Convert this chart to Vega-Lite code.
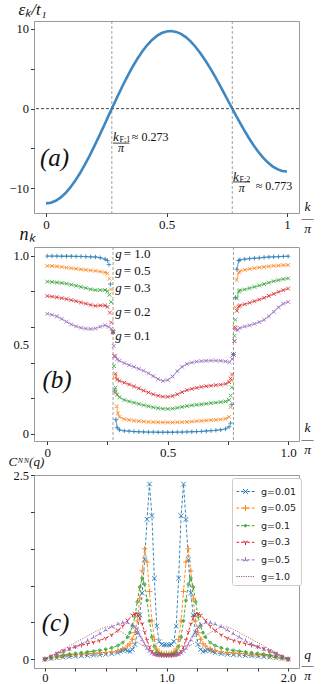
{
"$schema": "https://vega.github.io/schema/vega-lite/v6.json",
"padding": {"left": 7, "top": 0, "right": 0, "bottom": 0},
"bounds": "flush",
"spacing": 34,
"config": {
  "view": {"stroke": "#9a9a9a", "strokeWidth": 1},
  "axis": {"labelFont": "Liberation Serif", "labelFontSize": 12.5, "labelColor": "#111", "tickColor": "#333", "tickSize": 3.5, "tickCount": 50, "domain": false, "grid": false, "titleFont": "Liberation Serif", "titleFontStyle": "italic", "titleFontWeight": "normal", "titleColor": "#111", "labelPadding": 2, "labelOverlap": false, "labelFlush": false},
  "text": {"font": "Liberation Serif", "color": "#111"}
},
"datasets": {
  "eps": [
    {"k":0,"e":-11.89},{"k":0.02,"e":-11.81},{"k":0.04,"e":-11.57},{"k":0.06,"e":-11.17},{"k":0.08,"e":-10.62},{"k":0.1,"e":-9.92},{"k":0.12,"e":-9.1},{"k":0.14,"e":-8.15},{"k":0.16,"e":-7.1},{"k":0.18,"e":-5.96},{"k":0.2,"e":-4.74},{"k":0.22,"e":-3.48},{"k":0.24,"e":-2.17},{"k":0.26,"e":-0.85},{"k":0.28,"e":0.46},{"k":0.3,"e":1.75},{"k":0.32,"e":3.0},{"k":0.34,"e":4.18},{"k":0.36,"e":5.29},{"k":0.38,"e":6.3},{"k":0.4,"e":7.2},{"k":0.42,"e":7.98},{"k":0.44,"e":8.63},{"k":0.46,"e":9.13},{"k":0.48,"e":9.49},{"k":0.5,"e":9.69},{"k":0.52,"e":9.74},{"k":0.54,"e":9.63},{"k":0.56,"e":9.38},{"k":0.58,"e":8.98},{"k":0.6,"e":8.44},{"k":0.62,"e":7.77},{"k":0.64,"e":6.99},{"k":0.66,"e":6.11},{"k":0.68,"e":5.14},{"k":0.7,"e":4.1},{"k":0.72,"e":3.01},{"k":0.74,"e":1.88},{"k":0.76,"e":0.74},{"k":0.78,"e":-0.39},{"k":0.8,"e":-1.51},{"k":0.82,"e":-2.58},{"k":0.84,"e":-3.59},{"k":0.86,"e":-4.53},{"k":0.88,"e":-5.38},{"k":0.9,"e":-6.12},{"k":0.92,"e":-6.74},{"k":0.94,"e":-7.24},{"k":0.96,"e":-7.6},{"k":0.98,"e":-7.82},{"k":1.0,"e":-7.89}
  ],
  "kf": [{"k":0.273},{"k":0.773}],
  "zero": [{"e":0}],
  "annA": [
    {"r":"num","k":0.278,"e":-3.5,"t":"k"},{"r":"num","k":0.776,"e":-8.62,"t":"k"},
    {"r":"sub","k":0.278,"e":-3.5,"t":"F;1"},{"r":"sub","k":0.776,"e":-8.62,"t":"F;2"},
    {"r":"den","k":0.311,"e":-4.95,"t":"π"},{"r":"den","k":0.812,"e":-9.91,"t":"π"},
    {"r":"val","k":0.356,"e":-3.58,"t":"≈ 0.273"},{"r":"val","k":0.87,"e":-9.66,"t":"≈ 0.773"},
    {"r":"lab","k":-0.025,"e":-6.2,"t":"(a)"}
  ],
  "barA": [{"k":0.278,"k2":0.346,"e":-4.33},{"k":0.776,"k2":0.846,"e":-9.2}],
  "annB": [
    {"r":"g","k":0.282,"n":1.01,"t":"= 1.0"},{"r":"g","k":0.282,"n":0.914,"t":"= 0.5"},{"r":"g","k":0.282,"n":0.816,"t":"= 0.3"},{"r":"g","k":0.282,"n":0.685,"t":"= 0.2"},{"r":"g","k":0.282,"n":0.549,"t":"= 0.1"},
    {"r":"lab","k":-0.02,"n":0.3,"t":"(b)"}
  ],
  "annC": [{"q":-0.027,"c":0.49,"t":"(c)"}],
  "nk": [
    {"g":"1.0","s":"L","k":0,"n":0.997},{"g":"1.0","s":"L","k":0.02,"n":0.997},{"g":"1.0","s":"L","k":0.04,"n":0.997},{"g":"1.0","s":"L","k":0.06,"n":0.996},{"g":"1.0","s":"L","k":0.08,"n":0.996},{"g":"1.0","s":"L","k":0.1,"n":0.996},{"g":"1.0","s":"L","k":0.12,"n":0.995},{"g":"1.0","s":"L","k":0.14,"n":0.995},{"g":"1.0","s":"L","k":0.16,"n":0.994},{"g":"1.0","s":"L","k":0.18,"n":0.993},{"g":"1.0","s":"L","k":0.2,"n":0.992},{"g":"1.0","s":"L","k":0.22,"n":0.988},{"g":"1.0","s":"L","k":0.24,"n":0.98},{"g":"1.0","s":"L","k":0.25,"n":0.972},
    {"g":"1.0","s":"T","k":0.256,"n":0.95},{"g":"1.0","s":"T","k":0.262,"n":0.84},{"g":"1.0","s":"T","k":0.273,"n":0.57},{"g":"1.0","s":"T","k":0.279,"n":0.24},
    {"g":"1.0","s":"M","k":0.285,"n":0.08},{"g":"1.0","s":"M","k":0.29,"n":0.035},{"g":"1.0","s":"M","k":0.3,"n":0.022},{"g":"1.0","s":"M","k":0.32,"n":0.017},{"g":"1.0","s":"M","k":0.34,"n":0.015},{"g":"1.0","s":"M","k":0.36,"n":0.013},{"g":"1.0","s":"M","k":0.38,"n":0.012},{"g":"1.0","s":"M","k":0.4,"n":0.011},{"g":"1.0","s":"M","k":0.42,"n":0.01},{"g":"1.0","s":"M","k":0.44,"n":0.01},{"g":"1.0","s":"M","k":0.46,"n":0.009},{"g":"1.0","s":"M","k":0.48,"n":0.009},{"g":"1.0","s":"M","k":0.5,"n":0.009},{"g":"1.0","s":"M","k":0.52,"n":0.009},{"g":"1.0","s":"M","k":0.54,"n":0.01},{"g":"1.0","s":"M","k":0.56,"n":0.01},{"g":"1.0","s":"M","k":0.58,"n":0.011},{"g":"1.0","s":"M","k":0.6,"n":0.012},{"g":"1.0","s":"M","k":0.62,"n":0.013},{"g":"1.0","s":"M","k":0.64,"n":0.014},{"g":"1.0","s":"M","k":0.66,"n":0.016},{"g":"1.0","s":"M","k":0.68,"n":0.018},{"g":"1.0","s":"M","k":0.7,"n":0.02},{"g":"1.0","s":"M","k":0.72,"n":0.023},{"g":"1.0","s":"M","k":0.74,"n":0.028},{"g":"1.0","s":"M","k":0.755,"n":0.04},
    {"g":"1.0","s":"T","k":0.761,"n":0.06},{"g":"1.0","s":"T","k":0.766,"n":0.165},{"g":"1.0","s":"T","k":0.773,"n":0.445},{"g":"1.0","s":"T","k":0.781,"n":0.764},
    {"g":"1.0","s":"R","k":0.787,"n":0.923},{"g":"1.0","s":"R","k":0.795,"n":0.972},{"g":"1.0","s":"R","k":0.8,"n":0.976},{"g":"1.0","s":"R","k":0.82,"n":0.98},{"g":"1.0","s":"R","k":0.84,"n":0.983},{"g":"1.0","s":"R","k":0.86,"n":0.985},{"g":"1.0","s":"R","k":0.88,"n":0.987},{"g":"1.0","s":"R","k":0.9,"n":0.99},{"g":"1.0","s":"R","k":0.92,"n":0.992},{"g":"1.0","s":"R","k":0.94,"n":0.993},{"g":"1.0","s":"R","k":0.96,"n":0.994},{"g":"1.0","s":"R","k":0.98,"n":0.995},{"g":"1.0","s":"R","k":1.0,"n":0.996},

    {"g":"0.5","s":"L","k":0,"n":0.942},{"g":"0.5","s":"L","k":0.02,"n":0.941},{"g":"0.5","s":"L","k":0.04,"n":0.939},{"g":"0.5","s":"L","k":0.06,"n":0.936},{"g":"0.5","s":"L","k":0.08,"n":0.932},{"g":"0.5","s":"L","k":0.1,"n":0.929},{"g":"0.5","s":"L","k":0.12,"n":0.926},{"g":"0.5","s":"L","k":0.14,"n":0.923},{"g":"0.5","s":"L","k":0.16,"n":0.92},{"g":"0.5","s":"L","k":0.18,"n":0.917},{"g":"0.5","s":"L","k":0.2,"n":0.914},{"g":"0.5","s":"L","k":0.22,"n":0.91},{"g":"0.5","s":"L","k":0.24,"n":0.905},{"g":"0.5","s":"L","k":0.25,"n":0.9},
    {"g":"0.5","s":"T","k":0.258,"n":0.87},{"g":"0.5","s":"T","k":0.265,"n":0.81},{"g":"0.5","s":"T","k":0.273,"n":0.57},{"g":"0.5","s":"T","k":0.279,"n":0.315},{"g":"0.5","s":"T","k":0.283,"n":0.23},
    {"g":"0.5","s":"M","k":0.288,"n":0.155},{"g":"0.5","s":"M","k":0.293,"n":0.115},{"g":"0.5","s":"M","k":0.3,"n":0.095},{"g":"0.5","s":"M","k":0.32,"n":0.083},{"g":"0.5","s":"M","k":0.34,"n":0.078},{"g":"0.5","s":"M","k":0.36,"n":0.074},{"g":"0.5","s":"M","k":0.38,"n":0.071},{"g":"0.5","s":"M","k":0.4,"n":0.069},{"g":"0.5","s":"M","k":0.42,"n":0.067},{"g":"0.5","s":"M","k":0.44,"n":0.066},{"g":"0.5","s":"M","k":0.46,"n":0.065},{"g":"0.5","s":"M","k":0.48,"n":0.064},{"g":"0.5","s":"M","k":0.5,"n":0.064},{"g":"0.5","s":"M","k":0.52,"n":0.064},{"g":"0.5","s":"M","k":0.54,"n":0.065},{"g":"0.5","s":"M","k":0.56,"n":0.066},{"g":"0.5","s":"M","k":0.58,"n":0.067},{"g":"0.5","s":"M","k":0.6,"n":0.069},{"g":"0.5","s":"M","k":0.62,"n":0.071},{"g":"0.5","s":"M","k":0.64,"n":0.073},{"g":"0.5","s":"M","k":0.66,"n":0.075},{"g":"0.5","s":"M","k":0.68,"n":0.077},{"g":"0.5","s":"M","k":0.7,"n":0.079},{"g":"0.5","s":"M","k":0.72,"n":0.081},{"g":"0.5","s":"M","k":0.74,"n":0.084},{"g":"0.5","s":"M","k":0.755,"n":0.095},
    {"g":"0.5","s":"T","k":0.761,"n":0.15},{"g":"0.5","s":"T","k":0.766,"n":0.3},{"g":"0.5","s":"T","k":0.773,"n":0.445},{"g":"0.5","s":"T","k":0.777,"n":0.6},{"g":"0.5","s":"T","k":0.781,"n":0.71},
    {"g":"0.5","s":"R","k":0.786,"n":0.863},{"g":"0.5","s":"R","k":0.795,"n":0.905},{"g":"0.5","s":"R","k":0.8,"n":0.912},{"g":"0.5","s":"R","k":0.82,"n":0.92},{"g":"0.5","s":"R","k":0.84,"n":0.925},{"g":"0.5","s":"R","k":0.86,"n":0.929},{"g":"0.5","s":"R","k":0.88,"n":0.933},{"g":"0.5","s":"R","k":0.9,"n":0.936},{"g":"0.5","s":"R","k":0.92,"n":0.939},{"g":"0.5","s":"R","k":0.94,"n":0.942},{"g":"0.5","s":"R","k":0.96,"n":0.944},{"g":"0.5","s":"R","k":0.98,"n":0.946},{"g":"0.5","s":"R","k":1.0,"n":0.947},

    {"g":"0.3","s":"L","k":0,"n":0.854},{"g":"0.3","s":"L","k":0.02,"n":0.852},{"g":"0.3","s":"L","k":0.04,"n":0.849},{"g":"0.3","s":"L","k":0.06,"n":0.846},{"g":"0.3","s":"L","k":0.08,"n":0.842},{"g":"0.3","s":"L","k":0.1,"n":0.837},{"g":"0.3","s":"L","k":0.12,"n":0.831},{"g":"0.3","s":"L","k":0.14,"n":0.825},{"g":"0.3","s":"L","k":0.16,"n":0.818},{"g":"0.3","s":"L","k":0.18,"n":0.811},{"g":"0.3","s":"L","k":0.2,"n":0.806},{"g":"0.3","s":"L","k":0.22,"n":0.806},{"g":"0.3","s":"L","k":0.24,"n":0.807},{"g":"0.3","s":"L","k":0.25,"n":0.8},
    {"g":"0.3","s":"T","k":0.258,"n":0.78},{"g":"0.3","s":"T","k":0.265,"n":0.74},{"g":"0.3","s":"T","k":0.273,"n":0.57},{"g":"0.3","s":"T","k":0.277,"n":0.38},
    {"g":"0.3","s":"M","k":0.283,"n":0.26},{"g":"0.3","s":"M","k":0.29,"n":0.22},{"g":"0.3","s":"M","k":0.3,"n":0.205},{"g":"0.3","s":"M","k":0.32,"n":0.19},{"g":"0.3","s":"M","k":0.34,"n":0.182},{"g":"0.3","s":"M","k":0.36,"n":0.175},{"g":"0.3","s":"M","k":0.38,"n":0.168},{"g":"0.3","s":"M","k":0.4,"n":0.161},{"g":"0.3","s":"M","k":0.42,"n":0.155},{"g":"0.3","s":"M","k":0.44,"n":0.149},{"g":"0.3","s":"M","k":0.46,"n":0.144},{"g":"0.3","s":"M","k":0.48,"n":0.141},{"g":"0.3","s":"M","k":0.5,"n":0.14},{"g":"0.3","s":"M","k":0.52,"n":0.142},{"g":"0.3","s":"M","k":0.54,"n":0.146},{"g":"0.3","s":"M","k":0.56,"n":0.151},{"g":"0.3","s":"M","k":0.58,"n":0.156},{"g":"0.3","s":"M","k":0.6,"n":0.16},{"g":"0.3","s":"M","k":0.62,"n":0.163},{"g":"0.3","s":"M","k":0.64,"n":0.166},{"g":"0.3","s":"M","k":0.66,"n":0.169},{"g":"0.3","s":"M","k":0.68,"n":0.172},{"g":"0.3","s":"M","k":0.7,"n":0.175},{"g":"0.3","s":"M","k":0.72,"n":0.178},{"g":"0.3","s":"M","k":0.74,"n":0.182},{"g":"0.3","s":"M","k":0.755,"n":0.19},
    {"g":"0.3","s":"T","k":0.761,"n":0.215},{"g":"0.3","s":"T","k":0.766,"n":0.26},{"g":"0.3","s":"T","k":0.773,"n":0.445},{"g":"0.3","s":"T","k":0.777,"n":0.55},{"g":"0.3","s":"T","k":0.781,"n":0.64},
    {"g":"0.3","s":"R","k":0.787,"n":0.76},{"g":"0.3","s":"R","k":0.795,"n":0.8},{"g":"0.3","s":"R","k":0.8,"n":0.805},{"g":"0.3","s":"R","k":0.82,"n":0.81},{"g":"0.3","s":"R","k":0.84,"n":0.817},{"g":"0.3","s":"R","k":0.86,"n":0.824},{"g":"0.3","s":"R","k":0.88,"n":0.832},{"g":"0.3","s":"R","k":0.9,"n":0.84},{"g":"0.3","s":"R","k":0.92,"n":0.848},{"g":"0.3","s":"R","k":0.94,"n":0.856},{"g":"0.3","s":"R","k":0.96,"n":0.862},{"g":"0.3","s":"R","k":0.98,"n":0.868},{"g":"0.3","s":"R","k":1.0,"n":0.872},

    {"g":"0.2","s":"L","k":0,"n":0.773},{"g":"0.2","s":"L","k":0.02,"n":0.77},{"g":"0.2","s":"L","k":0.04,"n":0.766},{"g":"0.2","s":"L","k":0.06,"n":0.761},{"g":"0.2","s":"L","k":0.08,"n":0.756},{"g":"0.2","s":"L","k":0.1,"n":0.75},{"g":"0.2","s":"L","k":0.12,"n":0.744},{"g":"0.2","s":"L","k":0.14,"n":0.737},{"g":"0.2","s":"L","k":0.16,"n":0.73},{"g":"0.2","s":"L","k":0.18,"n":0.723},{"g":"0.2","s":"L","k":0.2,"n":0.718},{"g":"0.2","s":"L","k":0.22,"n":0.72},{"g":"0.2","s":"L","k":0.24,"n":0.72},{"g":"0.2","s":"L","k":0.25,"n":0.712},
    {"g":"0.2","s":"T","k":0.26,"n":0.68},{"g":"0.2","s":"T","k":0.265,"n":0.625},{"g":"0.2","s":"T","k":0.273,"n":0.57},{"g":"0.2","s":"T","k":0.278,"n":0.436},
    {"g":"0.2","s":"M","k":0.283,"n":0.337},{"g":"0.2","s":"M","k":0.29,"n":0.305},{"g":"0.2","s":"M","k":0.3,"n":0.297},{"g":"0.2","s":"M","k":0.32,"n":0.287},{"g":"0.2","s":"M","k":0.34,"n":0.277},{"g":"0.2","s":"M","k":0.36,"n":0.266},{"g":"0.2","s":"M","k":0.38,"n":0.255},{"g":"0.2","s":"M","k":0.4,"n":0.243},{"g":"0.2","s":"M","k":0.42,"n":0.232},{"g":"0.2","s":"M","k":0.44,"n":0.222},{"g":"0.2","s":"M","k":0.46,"n":0.214},{"g":"0.2","s":"M","k":0.48,"n":0.209},{"g":"0.2","s":"M","k":0.5,"n":0.208},{"g":"0.2","s":"M","k":0.52,"n":0.212},{"g":"0.2","s":"M","k":0.54,"n":0.222},{"g":"0.2","s":"M","k":0.56,"n":0.234},{"g":"0.2","s":"M","k":0.58,"n":0.245},{"g":"0.2","s":"M","k":0.6,"n":0.252},{"g":"0.2","s":"M","k":0.62,"n":0.258},{"g":"0.2","s":"M","k":0.64,"n":0.263},{"g":"0.2","s":"M","k":0.66,"n":0.267},{"g":"0.2","s":"M","k":0.68,"n":0.27},{"g":"0.2","s":"M","k":0.7,"n":0.273},{"g":"0.2","s":"M","k":0.72,"n":0.276},{"g":"0.2","s":"M","k":0.74,"n":0.28},{"g":"0.2","s":"M","k":0.755,"n":0.29},
    {"g":"0.2","s":"T","k":0.761,"n":0.31},{"g":"0.2","s":"T","k":0.767,"n":0.333},{"g":"0.2","s":"T","k":0.773,"n":0.445},{"g":"0.2","s":"T","k":0.777,"n":0.52},{"g":"0.2","s":"T","k":0.781,"n":0.595},
    {"g":"0.2","s":"R","k":0.787,"n":0.69},{"g":"0.2","s":"R","k":0.795,"n":0.715},{"g":"0.2","s":"R","k":0.8,"n":0.72},{"g":"0.2","s":"R","k":0.82,"n":0.727},{"g":"0.2","s":"R","k":0.84,"n":0.735},{"g":"0.2","s":"R","k":0.86,"n":0.744},{"g":"0.2","s":"R","k":0.88,"n":0.753},{"g":"0.2","s":"R","k":0.9,"n":0.763},{"g":"0.2","s":"R","k":0.92,"n":0.774},{"g":"0.2","s":"R","k":0.94,"n":0.785},{"g":"0.2","s":"R","k":0.96,"n":0.796},{"g":"0.2","s":"R","k":0.98,"n":0.806},{"g":"0.2","s":"R","k":1.0,"n":0.815},

    {"g":"0.1","s":"L","k":0,"n":0.674},{"g":"0.1","s":"L","k":0.02,"n":0.668},{"g":"0.1","s":"L","k":0.04,"n":0.659},{"g":"0.1","s":"L","k":0.06,"n":0.645},{"g":"0.1","s":"L","k":0.08,"n":0.629},{"g":"0.1","s":"L","k":0.1,"n":0.614},{"g":"0.1","s":"L","k":0.12,"n":0.603},{"g":"0.1","s":"L","k":0.14,"n":0.595},{"g":"0.1","s":"L","k":0.16,"n":0.59},{"g":"0.1","s":"L","k":0.18,"n":0.588},{"g":"0.1","s":"L","k":0.2,"n":0.591},{"g":"0.1","s":"L","k":0.22,"n":0.601},{"g":"0.1","s":"L","k":0.24,"n":0.609},{"g":"0.1","s":"L","k":0.255,"n":0.6},
    {"g":"0.1","s":"T","k":0.265,"n":0.59},{"g":"0.1","s":"T","k":0.273,"n":0.577},{"g":"0.1","s":"T","k":0.276,"n":0.493},
    {"g":"0.1","s":"M","k":0.283,"n":0.436},{"g":"0.1","s":"M","k":0.29,"n":0.418},{"g":"0.1","s":"M","k":0.3,"n":0.41},{"g":"0.1","s":"M","k":0.32,"n":0.397},{"g":"0.1","s":"M","k":0.34,"n":0.386},{"g":"0.1","s":"M","k":0.36,"n":0.376},{"g":"0.1","s":"M","k":0.38,"n":0.365},{"g":"0.1","s":"M","k":0.4,"n":0.354},{"g":"0.1","s":"M","k":0.42,"n":0.34},{"g":"0.1","s":"M","k":0.44,"n":0.324},{"g":"0.1","s":"M","k":0.46,"n":0.307},{"g":"0.1","s":"M","k":0.48,"n":0.297},{"g":"0.1","s":"M","k":0.5,"n":0.302},{"g":"0.1","s":"M","k":0.52,"n":0.322},{"g":"0.1","s":"M","k":0.54,"n":0.352},{"g":"0.1","s":"M","k":0.56,"n":0.376},{"g":"0.1","s":"M","k":0.58,"n":0.392},{"g":"0.1","s":"M","k":0.6,"n":0.4},{"g":"0.1","s":"M","k":0.62,"n":0.405},{"g":"0.1","s":"M","k":0.64,"n":0.408},{"g":"0.1","s":"M","k":0.66,"n":0.41},{"g":"0.1","s":"M","k":0.68,"n":0.411},{"g":"0.1","s":"M","k":0.7,"n":0.411},{"g":"0.1","s":"M","k":0.72,"n":0.41},{"g":"0.1","s":"M","k":0.74,"n":0.406},{"g":"0.1","s":"M","k":0.757,"n":0.402},
    {"g":"0.1","s":"T","k":0.767,"n":0.42},{"g":"0.1","s":"T","k":0.773,"n":0.445},{"g":"0.1","s":"T","k":0.776,"n":0.52},
    {"g":"0.1","s":"R","k":0.781,"n":0.585},{"g":"0.1","s":"R","k":0.79,"n":0.582},{"g":"0.1","s":"R","k":0.8,"n":0.594},{"g":"0.1","s":"R","k":0.82,"n":0.602},{"g":"0.1","s":"R","k":0.84,"n":0.609},{"g":"0.1","s":"R","k":0.86,"n":0.617},{"g":"0.1","s":"R","k":0.88,"n":0.627},{"g":"0.1","s":"R","k":0.9,"n":0.64},{"g":"0.1","s":"R","k":0.92,"n":0.659},{"g":"0.1","s":"R","k":0.94,"n":0.685},{"g":"0.1","s":"R","k":0.96,"n":0.71},{"g":"0.1","s":"R","k":0.98,"n":0.73},{"g":"0.1","s":"R","k":1.0,"n":0.74}
  ],
  "cnn": [
    {"g":"g=0.01","q":0,"c":0},{"g":"g=0.01","q":0.05,"c":0.01},{"g":"g=0.01","q":0.1,"c":0.02},{"g":"g=0.01","q":0.15,"c":0.028},{"g":"g=0.01","q":0.2,"c":0.035},{"g":"g=0.01","q":0.25,"c":0.04},{"g":"g=0.01","q":0.3,"c":0.045},{"g":"g=0.01","q":0.35,"c":0.05},{"g":"g=0.01","q":0.4,"c":0.055},{"g":"g=0.01","q":0.45,"c":0.06},{"g":"g=0.01","q":0.5,"c":0.066},{"g":"g=0.01","q":0.55,"c":0.075},{"g":"g=0.01","q":0.6,"c":0.09},{"g":"g=0.01","q":0.62,"c":0.105},{"g":"g=0.01","q":0.64,"c":0.12},{"g":"g=0.01","q":0.66,"c":0.13},{"g":"g=0.01","q":0.68,"c":0.115},{"g":"g=0.01","q":0.7,"c":0.105},{"g":"g=0.01","q":0.72,"c":0.13},{"g":"g=0.01","q":0.74,"c":0.2},{"g":"g=0.01","q":0.76,"c":0.36},{"g":"g=0.01","q":0.78,"c":0.6},{"g":"g=0.01","q":0.8,"c":0.9},{"g":"g=0.01","q":0.82,"c":1.35},{"g":"g=0.01","q":0.84,"c":1.9},{"g":"g=0.01","q":0.86,"c":2.38},{"g":"g=0.01","q":0.88,"c":1.95},{"g":"g=0.01","q":0.9,"c":1.1},{"g":"g=0.01","q":0.92,"c":0.45},{"g":"g=0.01","q":0.94,"c":0.24},{"g":"g=0.01","q":0.96,"c":0.2},{"g":"g=0.01","q":0.98,"c":0.195},{"g":"g=0.01","q":1.0,"c":0.195},{"g":"g=0.01","q":1.02,"c":0.195},{"g":"g=0.01","q":1.04,"c":0.2},{"g":"g=0.01","q":1.06,"c":0.24},{"g":"g=0.01","q":1.08,"c":0.45},{"g":"g=0.01","q":1.1,"c":1.1},{"g":"g=0.01","q":1.12,"c":1.95},{"g":"g=0.01","q":1.14,"c":2.38},{"g":"g=0.01","q":1.16,"c":1.9},{"g":"g=0.01","q":1.18,"c":1.35},{"g":"g=0.01","q":1.2,"c":0.9},{"g":"g=0.01","q":1.22,"c":0.6},{"g":"g=0.01","q":1.24,"c":0.36},{"g":"g=0.01","q":1.26,"c":0.2},{"g":"g=0.01","q":1.28,"c":0.13},{"g":"g=0.01","q":1.3,"c":0.105},{"g":"g=0.01","q":1.32,"c":0.115},{"g":"g=0.01","q":1.34,"c":0.13},{"g":"g=0.01","q":1.36,"c":0.12},{"g":"g=0.01","q":1.38,"c":0.105},{"g":"g=0.01","q":1.4,"c":0.09},{"g":"g=0.01","q":1.45,"c":0.075},{"g":"g=0.01","q":1.5,"c":0.066},{"g":"g=0.01","q":1.55,"c":0.06},{"g":"g=0.01","q":1.6,"c":0.055},{"g":"g=0.01","q":1.65,"c":0.05},{"g":"g=0.01","q":1.7,"c":0.045},{"g":"g=0.01","q":1.75,"c":0.04},{"g":"g=0.01","q":1.8,"c":0.035},{"g":"g=0.01","q":1.85,"c":0.028},{"g":"g=0.01","q":1.9,"c":0.02},{"g":"g=0.01","q":1.95,"c":0.01},{"g":"g=0.01","q":2.0,"c":0},

    {"g":"g=0.05","q":0,"c":0},{"g":"g=0.05","q":0.05,"c":0.015},{"g":"g=0.05","q":0.1,"c":0.03},{"g":"g=0.05","q":0.15,"c":0.042},{"g":"g=0.05","q":0.2,"c":0.052},{"g":"g=0.05","q":0.25,"c":0.06},{"g":"g=0.05","q":0.3,"c":0.066},{"g":"g=0.05","q":0.35,"c":0.072},{"g":"g=0.05","q":0.4,"c":0.078},{"g":"g=0.05","q":0.45,"c":0.085},{"g":"g=0.05","q":0.5,"c":0.092},{"g":"g=0.05","q":0.55,"c":0.1},{"g":"g=0.05","q":0.6,"c":0.115},{"g":"g=0.05","q":0.64,"c":0.14},{"g":"g=0.05","q":0.68,"c":0.18},{"g":"g=0.05","q":0.7,"c":0.21},{"g":"g=0.05","q":0.72,"c":0.27},{"g":"g=0.05","q":0.74,"c":0.36},{"g":"g=0.05","q":0.76,"c":0.52},{"g":"g=0.05","q":0.78,"c":0.82},{"g":"g=0.05","q":0.8,"c":1.2},{"g":"g=0.05","q":0.82,"c":1.5},{"g":"g=0.05","q":0.84,"c":1.32},{"g":"g=0.05","q":0.86,"c":0.92},{"g":"g=0.05","q":0.88,"c":0.52},{"g":"g=0.05","q":0.9,"c":0.27},{"g":"g=0.05","q":0.92,"c":0.14},{"g":"g=0.05","q":0.94,"c":0.095},{"g":"g=0.05","q":0.96,"c":0.082},{"g":"g=0.05","q":0.98,"c":0.078},{"g":"g=0.05","q":1.0,"c":0.078},{"g":"g=0.05","q":1.02,"c":0.078},{"g":"g=0.05","q":1.04,"c":0.082},{"g":"g=0.05","q":1.06,"c":0.095},{"g":"g=0.05","q":1.08,"c":0.14},{"g":"g=0.05","q":1.1,"c":0.27},{"g":"g=0.05","q":1.12,"c":0.52},{"g":"g=0.05","q":1.14,"c":0.92},{"g":"g=0.05","q":1.16,"c":1.32},{"g":"g=0.05","q":1.18,"c":1.5},{"g":"g=0.05","q":1.2,"c":1.2},{"g":"g=0.05","q":1.22,"c":0.82},{"g":"g=0.05","q":1.24,"c":0.52},{"g":"g=0.05","q":1.26,"c":0.36},{"g":"g=0.05","q":1.28,"c":0.27},{"g":"g=0.05","q":1.3,"c":0.21},{"g":"g=0.05","q":1.32,"c":0.18},{"g":"g=0.05","q":1.36,"c":0.14},{"g":"g=0.05","q":1.4,"c":0.115},{"g":"g=0.05","q":1.45,"c":0.1},{"g":"g=0.05","q":1.5,"c":0.092},{"g":"g=0.05","q":1.55,"c":0.085},{"g":"g=0.05","q":1.6,"c":0.078},{"g":"g=0.05","q":1.65,"c":0.072},{"g":"g=0.05","q":1.7,"c":0.066},{"g":"g=0.05","q":1.75,"c":0.06},{"g":"g=0.05","q":1.8,"c":0.052},{"g":"g=0.05","q":1.85,"c":0.042},{"g":"g=0.05","q":1.9,"c":0.03},{"g":"g=0.05","q":1.95,"c":0.015},{"g":"g=0.05","q":2.0,"c":0},

    {"g":"g=0.1","q":0,"c":0},{"g":"g=0.1","q":0.05,"c":0.02},{"g":"g=0.1","q":0.1,"c":0.04},{"g":"g=0.1","q":0.15,"c":0.055},{"g":"g=0.1","q":0.2,"c":0.068},{"g":"g=0.1","q":0.25,"c":0.078},{"g":"g=0.1","q":0.3,"c":0.088},{"g":"g=0.1","q":0.35,"c":0.098},{"g":"g=0.1","q":0.4,"c":0.108},{"g":"g=0.1","q":0.45,"c":0.12},{"g":"g=0.1","q":0.5,"c":0.135},{"g":"g=0.1","q":0.55,"c":0.155},{"g":"g=0.1","q":0.6,"c":0.185},{"g":"g=0.1","q":0.64,"c":0.225},{"g":"g=0.1","q":0.68,"c":0.3},{"g":"g=0.1","q":0.7,"c":0.36},{"g":"g=0.1","q":0.72,"c":0.45},{"g":"g=0.1","q":0.74,"c":0.58},{"g":"g=0.1","q":0.76,"c":0.78},{"g":"g=0.1","q":0.78,"c":0.98},{"g":"g=0.1","q":0.8,"c":1.1},{"g":"g=0.1","q":0.82,"c":1.02},{"g":"g=0.1","q":0.84,"c":0.8},{"g":"g=0.1","q":0.86,"c":0.52},{"g":"g=0.1","q":0.88,"c":0.3},{"g":"g=0.1","q":0.9,"c":0.17},{"g":"g=0.1","q":0.92,"c":0.1},{"g":"g=0.1","q":0.94,"c":0.075},{"g":"g=0.1","q":0.96,"c":0.065},{"g":"g=0.1","q":0.98,"c":0.06},{"g":"g=0.1","q":1.0,"c":0.06},{"g":"g=0.1","q":1.02,"c":0.06},{"g":"g=0.1","q":1.04,"c":0.065},{"g":"g=0.1","q":1.06,"c":0.075},{"g":"g=0.1","q":1.08,"c":0.1},{"g":"g=0.1","q":1.1,"c":0.17},{"g":"g=0.1","q":1.12,"c":0.3},{"g":"g=0.1","q":1.14,"c":0.52},{"g":"g=0.1","q":1.16,"c":0.8},{"g":"g=0.1","q":1.18,"c":1.02},{"g":"g=0.1","q":1.2,"c":1.1},{"g":"g=0.1","q":1.22,"c":0.98},{"g":"g=0.1","q":1.24,"c":0.78},{"g":"g=0.1","q":1.26,"c":0.58},{"g":"g=0.1","q":1.28,"c":0.45},{"g":"g=0.1","q":1.3,"c":0.36},{"g":"g=0.1","q":1.32,"c":0.3},{"g":"g=0.1","q":1.36,"c":0.225},{"g":"g=0.1","q":1.4,"c":0.185},{"g":"g=0.1","q":1.45,"c":0.155},{"g":"g=0.1","q":1.5,"c":0.135},{"g":"g=0.1","q":1.55,"c":0.12},{"g":"g=0.1","q":1.6,"c":0.108},{"g":"g=0.1","q":1.65,"c":0.098},{"g":"g=0.1","q":1.7,"c":0.088},{"g":"g=0.1","q":1.75,"c":0.078},{"g":"g=0.1","q":1.8,"c":0.068},{"g":"g=0.1","q":1.85,"c":0.055},{"g":"g=0.1","q":1.9,"c":0.04},{"g":"g=0.1","q":1.95,"c":0.02},{"g":"g=0.1","q":2.0,"c":0},

    {"g":"g=0.3","q":0,"c":0},{"g":"g=0.3","q":0.05,"c":0.04},{"g":"g=0.3","q":0.1,"c":0.08},{"g":"g=0.3","q":0.15,"c":0.115},{"g":"g=0.3","q":0.2,"c":0.145},{"g":"g=0.3","q":0.25,"c":0.17},{"g":"g=0.3","q":0.3,"c":0.19},{"g":"g=0.3","q":0.35,"c":0.21},{"g":"g=0.3","q":0.4,"c":0.23},{"g":"g=0.3","q":0.45,"c":0.255},{"g":"g=0.3","q":0.5,"c":0.285},{"g":"g=0.3","q":0.55,"c":0.33},{"g":"g=0.3","q":0.6,"c":0.39},{"g":"g=0.3","q":0.64,"c":0.45},{"g":"g=0.3","q":0.68,"c":0.53},{"g":"g=0.3","q":0.72,"c":0.6},{"g":"g=0.3","q":0.74,"c":0.62},{"g":"g=0.3","q":0.76,"c":0.615},{"g":"g=0.3","q":0.78,"c":0.57},{"g":"g=0.3","q":0.8,"c":0.48},{"g":"g=0.3","q":0.82,"c":0.37},{"g":"g=0.3","q":0.84,"c":0.26},{"g":"g=0.3","q":0.86,"c":0.17},{"g":"g=0.3","q":0.88,"c":0.11},{"g":"g=0.3","q":0.9,"c":0.075},{"g":"g=0.3","q":0.92,"c":0.06},{"g":"g=0.3","q":0.94,"c":0.055},{"g":"g=0.3","q":0.96,"c":0.05},{"g":"g=0.3","q":0.98,"c":0.05},{"g":"g=0.3","q":1.0,"c":0.05},{"g":"g=0.3","q":1.02,"c":0.05},{"g":"g=0.3","q":1.04,"c":0.05},{"g":"g=0.3","q":1.06,"c":0.055},{"g":"g=0.3","q":1.08,"c":0.06},{"g":"g=0.3","q":1.1,"c":0.075},{"g":"g=0.3","q":1.12,"c":0.11},{"g":"g=0.3","q":1.14,"c":0.17},{"g":"g=0.3","q":1.16,"c":0.26},{"g":"g=0.3","q":1.18,"c":0.37},{"g":"g=0.3","q":1.2,"c":0.48},{"g":"g=0.3","q":1.22,"c":0.57},{"g":"g=0.3","q":1.24,"c":0.615},{"g":"g=0.3","q":1.26,"c":0.62},{"g":"g=0.3","q":1.28,"c":0.6},{"g":"g=0.3","q":1.32,"c":0.53},{"g":"g=0.3","q":1.36,"c":0.45},{"g":"g=0.3","q":1.4,"c":0.39},{"g":"g=0.3","q":1.45,"c":0.33},{"g":"g=0.3","q":1.5,"c":0.285},{"g":"g=0.3","q":1.55,"c":0.255},{"g":"g=0.3","q":1.6,"c":0.23},{"g":"g=0.3","q":1.65,"c":0.21},{"g":"g=0.3","q":1.7,"c":0.19},{"g":"g=0.3","q":1.75,"c":0.17},{"g":"g=0.3","q":1.8,"c":0.145},{"g":"g=0.3","q":1.85,"c":0.115},{"g":"g=0.3","q":1.9,"c":0.08},{"g":"g=0.3","q":1.95,"c":0.04},{"g":"g=0.3","q":2.0,"c":0},

    {"g":"g=0.5","q":0,"c":0},{"g":"g=0.5","q":0.05,"c":0.035},{"g":"g=0.5","q":0.1,"c":0.07},{"g":"g=0.5","q":0.15,"c":0.1},{"g":"g=0.5","q":0.2,"c":0.13},{"g":"g=0.5","q":0.25,"c":0.165},{"g":"g=0.5","q":0.3,"c":0.205},{"g":"g=0.5","q":0.35,"c":0.25},{"g":"g=0.5","q":0.4,"c":0.295},{"g":"g=0.5","q":0.45,"c":0.345},{"g":"g=0.5","q":0.5,"c":0.395},{"g":"g=0.5","q":0.55,"c":0.44},{"g":"g=0.5","q":0.6,"c":0.475},{"g":"g=0.5","q":0.64,"c":0.495},{"g":"g=0.5","q":0.68,"c":0.495},{"g":"g=0.5","q":0.72,"c":0.465},{"g":"g=0.5","q":0.74,"c":0.43},{"g":"g=0.5","q":0.76,"c":0.38},{"g":"g=0.5","q":0.78,"c":0.32},{"g":"g=0.5","q":0.8,"c":0.26},{"g":"g=0.5","q":0.82,"c":0.2},{"g":"g=0.5","q":0.84,"c":0.145},{"g":"g=0.5","q":0.86,"c":0.105},{"g":"g=0.5","q":0.88,"c":0.078},{"g":"g=0.5","q":0.9,"c":0.062},{"g":"g=0.5","q":0.92,"c":0.055},{"g":"g=0.5","q":0.94,"c":0.05},{"g":"g=0.5","q":0.96,"c":0.05},{"g":"g=0.5","q":0.98,"c":0.05},{"g":"g=0.5","q":1.0,"c":0.05},{"g":"g=0.5","q":1.02,"c":0.05},{"g":"g=0.5","q":1.04,"c":0.05},{"g":"g=0.5","q":1.06,"c":0.05},{"g":"g=0.5","q":1.08,"c":0.055},{"g":"g=0.5","q":1.1,"c":0.062},{"g":"g=0.5","q":1.12,"c":0.078},{"g":"g=0.5","q":1.14,"c":0.105},{"g":"g=0.5","q":1.16,"c":0.145},{"g":"g=0.5","q":1.18,"c":0.2},{"g":"g=0.5","q":1.2,"c":0.26},{"g":"g=0.5","q":1.22,"c":0.32},{"g":"g=0.5","q":1.24,"c":0.38},{"g":"g=0.5","q":1.26,"c":0.43},{"g":"g=0.5","q":1.28,"c":0.465},{"g":"g=0.5","q":1.32,"c":0.495},{"g":"g=0.5","q":1.36,"c":0.495},{"g":"g=0.5","q":1.4,"c":0.475},{"g":"g=0.5","q":1.45,"c":0.44},{"g":"g=0.5","q":1.5,"c":0.395},{"g":"g=0.5","q":1.55,"c":0.345},{"g":"g=0.5","q":1.6,"c":0.295},{"g":"g=0.5","q":1.65,"c":0.25},{"g":"g=0.5","q":1.7,"c":0.205},{"g":"g=0.5","q":1.75,"c":0.165},{"g":"g=0.5","q":1.8,"c":0.13},{"g":"g=0.5","q":1.85,"c":0.1},{"g":"g=0.5","q":1.9,"c":0.07},{"g":"g=0.5","q":1.95,"c":0.035},{"g":"g=0.5","q":2.0,"c":0},

    {"g":"g=1.0","q":0,"c":0},{"g":"g=1.0","q":0.1,"c":0.09},{"g":"g=1.0","q":0.2,"c":0.18},{"g":"g=1.0","q":0.3,"c":0.27},{"g":"g=1.0","q":0.4,"c":0.36},{"g":"g=1.0","q":0.45,"c":0.405},{"g":"g=1.0","q":0.5,"c":0.44},{"g":"g=1.0","q":0.55,"c":0.44},{"g":"g=1.0","q":0.6,"c":0.4},{"g":"g=1.0","q":0.7,"c":0.3},{"g":"g=1.0","q":0.8,"c":0.19},{"g":"g=1.0","q":0.9,"c":0.085},{"g":"g=1.0","q":0.94,"c":0.05},{"g":"g=1.0","q":1.0,"c":0.05},{"g":"g=1.0","q":1.06,"c":0.05},{"g":"g=1.0","q":1.1,"c":0.085},{"g":"g=1.0","q":1.2,"c":0.19},{"g":"g=1.0","q":1.3,"c":0.3},{"g":"g=1.0","q":1.4,"c":0.4},{"g":"g=1.0","q":1.45,"c":0.44},{"g":"g=1.0","q":1.5,"c":0.44},{"g":"g=1.0","q":1.55,"c":0.405},{"g":"g=1.0","q":1.6,"c":0.36},{"g":"g=1.0","q":1.7,"c":0.27},{"g":"g=1.0","q":1.8,"c":0.18},{"g":"g=1.0","q":1.9,"c":0.09},{"g":"g=1.0","q":2.0,"c":0}
  ]
},
"vconcat": [
  {
    "width": 265, "height": 192,
    "layer": [
      {"data": {"name": "kf"}, "mark": {"type": "rule", "color": "#8a8a8a", "strokeDash": [3, 2], "strokeWidth": 0.8},
       "encoding": {"x": {"field": "k", "type": "quantitative"}}},
      {"data": {"name": "zero"}, "mark": {"type": "rule", "color": "#333", "strokeDash": [3, 2], "strokeWidth": 0.9},
       "encoding": {"y": {"field": "e", "type": "quantitative"}}},
      {"data": {"name": "eps"}, "mark": {"type": "line", "color": "#2a7ab9", "strokeWidth": 2.6, "opacity": 0.9},
       "encoding": {
         "x": {"field": "k", "type": "quantitative", "scale": {"domain": [-0.05, 1.05], "nice": false, "zero": false},
               "axis": {"values": [0, 0.5, 1], "labelExpr": "datum.value == 0 ? '0' : datum.value == 0.5 ? '0.5' : '1'", "labelFontSize": 13,
                        "title": ["k", "—", "π"], "titleX": 273, "titleY": -3, "titleAlign": "center", "titleAngle": 0, "titleBaseline": "alphabetic", "titleFontSize": 13.5, "titleLineHeight": 11}},
         "y": {"field": "e", "type": "quantitative", "scale": {"domain": [-13.1, 11], "nice": false, "zero": false},
               "axis": {"values": [-10, -5, 0, 5, 10], "labelExpr": "datum.value == -10 ? '−10' : datum.value == 0 ? '0' : datum.value == 10 ? '10' : ''",
                        "title": "εₖ/t₁", "titleX": -16, "titleY": -6.5, "titleAlign": "left", "titleAngle": 0, "titleBaseline": "alphabetic", "titleFontSize": 17}}
       }},
      {"data": {"name": "barA"}, "mark": {"type": "rule", "color": "#111", "strokeWidth": 0.8},
       "encoding": {"x": {"field": "k", "type": "quantitative"}, "x2": {"field": "k2"}, "y": {"field": "e", "type": "quantitative"}}},
      {"data": {"name": "annA"}, "transform": [{"filter": "datum.r == 'num'"}], "mark": {"type": "text", "fontStyle": "italic", "fontSize": 13, "align": "left", "baseline": "middle"},
       "encoding": {"x": {"field": "k", "type": "quantitative"}, "y": {"field": "e", "type": "quantitative"}, "text": {"field": "t"}}},
      {"data": {"name": "annA"}, "transform": [{"filter": "datum.r == 'sub'"}], "mark": {"type": "text", "fontSize": 8, "align": "left", "baseline": "middle", "dx": 6.5, "dy": 3},
       "encoding": {"x": {"field": "k", "type": "quantitative"}, "y": {"field": "e", "type": "quantitative"}, "text": {"field": "t"}}},
      {"data": {"name": "annA"}, "transform": [{"filter": "datum.r == 'den'"}], "mark": {"type": "text", "fontStyle": "italic", "fontSize": 12, "align": "center", "baseline": "middle"},
       "encoding": {"x": {"field": "k", "type": "quantitative"}, "y": {"field": "e", "type": "quantitative"}, "text": {"field": "t"}}},
      {"data": {"name": "annA"}, "transform": [{"filter": "datum.r == 'val'"}], "mark": {"type": "text", "fontSize": 12, "align": "left", "baseline": "middle"},
       "encoding": {"x": {"field": "k", "type": "quantitative"}, "y": {"field": "e", "type": "quantitative"}, "text": {"field": "t"}}},
      {"data": {"name": "annA"}, "transform": [{"filter": "datum.r == 'lab'"}], "mark": {"type": "text", "fontStyle": "italic", "fontSize": 25, "align": "left", "baseline": "middle"},
       "encoding": {"x": {"field": "k", "type": "quantitative"}, "y": {"field": "e", "type": "quantitative"}, "text": {"field": "t"}}}
    ]
  },
  {
    "width": 265, "height": 194,
    "layer": [
      {"data": {"name": "kf"}, "mark": {"type": "rule", "color": "#8a8a8a", "strokeDash": [3, 2], "strokeWidth": 0.8},
       "encoding": {"x": {"field": "k", "type": "quantitative"}}},
      {"data": {"name": "nk"}, "transform": [{"filter": "datum.s != 'T'"}], "mark": {"type": "line", "strokeWidth": 1.3, "opacity": 0.55},
       "encoding": {
         "x": {"field": "k", "type": "quantitative", "scale": {"domain": [-0.055, 1.045], "nice": false, "zero": false},
               "axis": {"values": [0, 0.25, 0.5, 0.75, 1], "labelExpr": "datum.value == 0 ? '0' : datum.value == 0.5 ? '0.5' : datum.value == 1 ? '1.0' : ''", "labelFontSize": 13,
                        "title": ["k", "—", "π"], "titleX": 273, "titleY": -10, "titleAlign": "center", "titleAngle": 0, "titleBaseline": "alphabetic", "titleFontSize": 13.5, "titleLineHeight": 11}},
         "y": {"field": "n", "type": "quantitative", "scale": {"domain": [-0.04, 1.048], "nice": false, "zero": false},
               "axis": {"values": [0, 0.2, 0.4, 0.5, 0.6, 0.8, 1], "labelExpr": "datum.value == 0 ? '0' : datum.value == 0.5 ? '0.5' : datum.value == 1 ? '1.0' : ''",
                        "tickOpacity": {"condition": {"test": "datum.value == 0.5", "value": 0}, "value": 1},
                        "title": "nₖ", "titleX": -15, "titleY": -7.7, "titleAlign": "left", "titleAngle": 0, "titleBaseline": "alphabetic", "titleFontSize": 18}},
         "color": {"field": "g", "type": "nominal", "scale": {"domain": ["1.0", "0.5", "0.3", "0.2", "0.1"], "range": ["#1f77b4", "#ff7f0e", "#2ca02c", "#d62728", "#9467bd"]}, "legend": null},
         "detail": {"field": "s"}
       }},
      {"data": {"name": "nk"}, "mark": {"type": "point", "filled": false, "strokeWidth": 1, "size": 14, "opacity": 0.8},
       "encoding": {
         "x": {"field": "k", "type": "quantitative"},
         "y": {"field": "n", "type": "quantitative"},
         "color": {"field": "g", "type": "nominal", "legend": null},
         "shape": {"field": "g", "type": "nominal", "scale": {"domain": ["1.0", "0.5", "0.3", "0.2", "0.1"], "range": ["M-1.2,0H1.2M0,-1.2V1.2", "M-1,-1L1,1M-1,1L1,-1", "M-1,-1L1,1M-1,1L1,-1", "M-1,-1L1,1M-1,1L1,-1", "M-1,-1L1,1M-1,1L1,-1"]}, "legend": null}
       }},
      {"data": {"name": "annB"}, "transform": [{"filter": "datum.r == 'g'"}], "mark": {"type": "text", "fontStyle": "italic", "fontSize": 13, "align": "left", "baseline": "middle", "text": "g"},
       "encoding": {"x": {"field": "k", "type": "quantitative"}, "y": {"field": "n", "type": "quantitative"}}},
      {"data": {"name": "annB"}, "transform": [{"filter": "datum.r == 'g'"}], "mark": {"type": "text", "fontSize": 13, "align": "left", "baseline": "middle", "dx": 8.5},
       "encoding": {"x": {"field": "k", "type": "quantitative"}, "y": {"field": "n", "type": "quantitative"}, "text": {"field": "t"}}},
      {"data": {"name": "annB"}, "transform": [{"filter": "datum.r == 'lab'"}], "mark": {"type": "text", "fontStyle": "italic", "fontSize": 25, "align": "left", "baseline": "middle"},
       "encoding": {"x": {"field": "k", "type": "quantitative"}, "y": {"field": "n", "type": "quantitative"}, "text": {"field": "t"}}}
    ]
  },
  {
    "width": 265, "height": 193,
    "resolve": {"scale": {"color": "independent", "shape": "independent", "strokeDash": "independent"}, "legend": {"color": "independent", "shape": "independent"}},
    "layer": [
      {"data": {"name": "cnn"}, "mark": {"type": "line", "strokeWidth": 0.9},
       "encoding": {
         "x": {"field": "q", "type": "quantitative", "scale": {"domain": [-0.09, 2.09], "nice": false, "zero": false},
               "axis": {"values": [0, 0.25, 0.5, 0.75, 1, 1.25, 1.5, 1.75, 2], "labelExpr": "datum.value == 0 ? '0' : datum.value == 1 ? '1.0' : datum.value == 2 ? '2.0' : ''", "labelFontSize": 12.5, "tickSize": 3, "labelPadding": 0.5,
                        "title": ["q", "—", "π"], "titleX": 273, "titleY": -10, "titleAlign": "center", "titleAngle": 0, "titleBaseline": "alphabetic", "titleFontSize": 13.5, "titleLineHeight": 10.5}},
         "y": {"field": "c", "type": "quantitative", "scale": {"domain": [-0.12, 2.503], "nice": false, "zero": false},
               "axis": {"values": [0, 0.5, 1, 1.5, 2, 2.5], "labelExpr": "datum.value == 0 ? '0' : datum.value == 2.5 ? '2.5' : ''",
                        "title": "Cᴺᴺ(q)", "titleX": -26, "titleY": -9.3, "titleAlign": "left", "titleAngle": 0, "titleBaseline": "alphabetic", "titleFontSize": 13}},
         "color": {"field": "g", "type": "nominal", "scale": {"domain": ["g=0.01", "g=0.05", "g=0.1", "g=0.3", "g=0.5", "g=1.0"], "range": ["#1f77b4", "#ff7f0e", "#2ca02c", "#d62728", "#9467bd", "#8c564b"]}, "legend": null},
         "strokeDash": {"field": "g", "type": "nominal", "scale": {"domain": ["g=0.01", "g=0.05", "g=0.1", "g=0.3", "g=0.5", "g=1.0"], "range": [[3, 2], [3, 2], [3, 2], [3, 2], [3, 2], [1, 1.5]]}, "legend": null}
       }},
      {"data": {"name": "cnn"}, "transform": [{"filter": "datum.g != 'g=1.0'"}], "mark": {"type": "point", "filled": false, "strokeWidth": 1, "size": 22, "opacity": 0.85},
       "encoding": {
         "x": {"field": "q", "type": "quantitative"},
         "y": {"field": "c", "type": "quantitative"},
         "color": {"field": "g", "type": "nominal", "scale": {"domain": ["g=0.01", "g=0.05", "g=0.1", "g=0.3", "g=0.5", "g=1.0"], "range": ["#1f77b4", "#ff7f0e", "#2ca02c", "#d62728", "#9467bd", "#8c564b"]}, "legend": null},
         "shape": {"field": "g", "type": "nominal", "scale": {"domain": ["g=0.01", "g=0.05", "g=0.1", "g=0.3", "g=0.5", "g=1.0"],
                   "range": ["M-1,-1L1,1M-1,1L1,-1", "M-1.2,0H1.2M0,-1.2V1.2", "M-0.6,0A0.6,0.6 0 1,0 0.6,0A0.6,0.6 0 1,0 -0.6,0M-0.2,0A0.2,0.2 0 1,0 0.2,0A0.2,0.2 0 1,0 -0.2,0", "M0,0V1M0,0L-0.87,-0.5M0,0L0.87,-0.5", "M0,0V-1M0,0L-0.87,0.5M0,0L0.87,0.5", "M0,0"]}, "legend": null}
       }},
      {"data": {"name": "cnn"}, "transform": [{"filter": "datum.q > 5"}], "mark": {"type": "point", "filled": false, "strokeWidth": 1},
       "encoding": {
         "x": {"field": "q", "type": "quantitative"},
         "y": {"field": "c", "type": "quantitative"},
         "color": {"field": "g", "type": "nominal", "scale": {"domain": ["g=0.01", "g=0.05", "g=0.1", "g=0.3", "g=0.5", "g=1.0"], "range": ["#1f77b4", "#ff7f0e", "#2ca02c", "#d62728", "#9467bd", "#8c564b"]},
                   "legend": {"title": null, "orient": "none", "legendX": 198, "legendY": 3, "padding": 4, "fillColor": "white", "strokeColor": "#cccccc", "cornerRadius": 2, "symbolSize": 324, "symbolStrokeWidth": 1, "symbolOpacity": 1, "labelFont": "DejaVu Sans", "labelFontSize": 9.5, "labelColor": "#222", "labelOffset": 6, "rowPadding": 2.6}},
         "shape": {"field": "g", "type": "nominal", "scale": {"domain": ["g=0.01", "g=0.05", "g=0.1", "g=0.3", "g=0.5", "g=1.0"],
                   "range": [
                     "M-1,0H-0.7M-0.5,0H-0.2M-0.1,0H0.1M0.2,0H0.5M0.7,0H1M-0.27,-0.27L0.27,0.27M-0.27,0.27L0.27,-0.27",
                     "M-1,0H-0.7M-0.5,0H-0.2M-0.1,0H0.1M0.2,0H0.5M0.7,0H1M-0.33,0H0.33M0,-0.33V0.33",
                     "M-1,0H-0.7M-0.5,0H-0.2M-0.1,0H0.1M0.2,0H0.5M0.7,0H1M-0.13,0A0.13,0.13 0 1,0 0.13,0A0.13,0.13 0 1,0 -0.13,0M-0.05,0A0.05,0.05 0 1,0 0.05,0A0.05,0.05 0 1,0 -0.05,0",
                     "M-1,0H-0.7M-0.5,0H-0.2M-0.1,0H0.1M0.2,0H0.5M0.7,0H1M0,0V0.3M0,0L-0.26,-0.15M0,0L0.26,-0.15",
                     "M-1,0H-0.7M-0.5,0H-0.2M-0.1,0H0.1M0.2,0H0.5M0.7,0H1M0,0V-0.3M0,0L-0.26,0.15M0,0L0.26,0.15",
                     "M-1,0H-0.88M-0.74,0H-0.62M-0.48,0H-0.36M-0.22,0H-0.1M0.04,0H0.16M0.3,0H0.42M0.56,0H0.68M0.82,0H0.94"
                   ]},
                   "legend": {"title": null, "orient": "none", "legendX": 198, "legendY": 3, "padding": 4, "fillColor": "white", "strokeColor": "#cccccc", "cornerRadius": 2, "symbolSize": 324, "symbolStrokeWidth": 1, "symbolOpacity": 1, "labelFont": "DejaVu Sans", "labelFontSize": 9.5, "labelColor": "#222", "labelOffset": 6, "rowPadding": 2.6}}
       }},
      {"data": {"name": "annC"}, "mark": {"type": "text", "fontStyle": "italic", "fontSize": 25, "align": "left", "baseline": "middle"},
       "encoding": {"x": {"field": "q", "type": "quantitative"}, "y": {"field": "c", "type": "quantitative"}, "text": {"field": "t"}}}
    ]
  }
],
"resolve": {"scale": {"x": "independent", "y": "independent", "color": "independent", "shape": "independent", "strokeDash": "independent"}}
}
